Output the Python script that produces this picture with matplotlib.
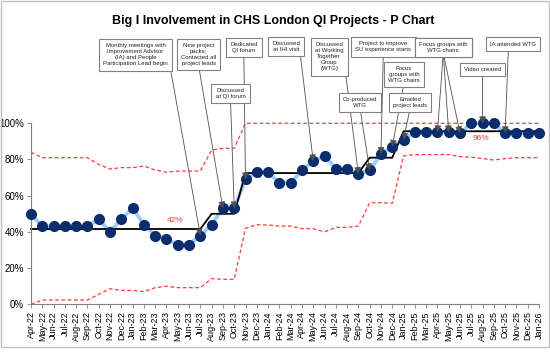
import matplotlib.pyplot as plt
from matplotlib.patches import Rectangle

plt.rcParams['font.family'] = ['Liberation Sans', 'DejaVu Sans']

# Data
months = ['Apr-22', 'May-22', 'Jun-22', 'Jul-22', 'Aug-22', 'Sep-22', 'Oct-22', 'Nov-22', 'Dec-22',
          'Jan-23', 'Feb-23', 'Mar-23', 'Apr-23', 'May-23', 'Jun-23', 'Jul-23', 'Aug-23', 'Sep-23',
          'Oct-23', 'Nov-23', 'Dec-23', 'Jan-24', 'Feb-24', 'Mar-24', 'Apr-24', 'May-24', 'Jun-24',
          'Jul-24', 'Aug-24', 'Sep-24', 'Oct-24', 'Nov-24', 'Dec-24', 'Jan-25', 'Feb-25', 'Mar-25',
          'Apr-25', 'May-25', 'Jun-25', 'Jul-25', 'Aug-25', 'Sep-25', 'Oct-25', 'Nov-25', 'Dec-25',
          'Jan-26']
pct = [50, 43, 43, 43, 43, 43, 47, 40, 47,
       53, 44, 38, 36, 33, 33, 38, 44, 53,
       53, 69, 73, 73, 67, 67, 74, 79, 82,
       75, 75, 72, 74, 83, 87, 91, 95, 95,
       95, 95, 94.5, 100, 100, 100, 94.5, 94.5, 94.5,
       94.5]
centre = [41.6] * 16 + [50] * 3 + [72.5] * 11 + [81] * 3 + [95.6] * 13
ucl = [84, 81, 81, 81, 81, 81, 77.3, 74.7, 75.5,
       75.5, 76.4, 74.2, 73, 73.6, 73.6, 73.6, 85.2, 86.2,
       86.2] + [100] * 27
lcl = [0, 2.4, 2.4, 2.4, 2.4, 2.4, 5.5, 8.6, 7.7,
       7.7, 7, 9.2, 10, 9.2, 9.2, 9.2, 14.2, 13.8,
       13.8, 42, 44, 43.8, 43.2, 43.2, 41.8, 41.8, 40,
       42.5, 42.5, 43.2, 56.1, 56.1, 55.8, 82, 82.7, 82.7,
       82.7, 82.7, 81.6, 81.2, 80.5, 79.7, 80.5, 81, 81,
       81]

# annotation text, box position (month index, value), target month indices, start point on box
notes = [
    ('Monthly meetings with\nImprovement Advisor\n(IA) and People\nParticipation Lead begin', 9.26, 137.8, [15], (1, 0.5)),
    ('New project\npacks;\nContacted all\nproject leads', 14.85, 138.0, [17], (0.5, 0)),
    ('Dedicated\nQI forum', 18.85, 141.9, [19], (0.5, 0)),
    ('Discussed\nat QI forum', 17.67, 116.3, [18], (0.5, 0)),
    ('Discussed\nat IHI visit', 22.59, 142.5, [25], (1, 0)),
    ('Discussed\nat Working\nTogether\nGroup\n(WTG)', 26.41, 136.7, [29], (1, 0.5)),
    ('Co-produced\nWTG', 29.14, 111.6, [30], (0.5, 0)),
    ('Project to improve\nSU experience starts', 31.21, 142.2, [31], (0.5, 0)),
    ('Focus\ngroups with\nWTG chairs', 33.04, 126.9, [32], (0.5, 0)),
    ('Emailed\nproject leads', 33.59, 111.6, [33], (0.5, 0)),
    ('Focus groups with\nWTG chairs', 36.52, 141.9, [36, 37, 38], (0.5, 0)),
    ('Video created', 40.0, 129.7, [40], (0.5, 0)),
    ('IA attended WTG', 42.7, 143.7, [42], (0.4, 0)),
]

x = list(range(len(months)))

fig = plt.figure(figsize=(5.5, 3.56), dpi=100)
ax = fig.add_axes([0.0564, 0.1452, 0.9236, 0.5085])

ax.plot(x, pct, color='#99CCFF', lw=2.7, zorder=2, clip_on=False)
ax.plot(x, pct, 'o', color='#0B2D6B', ms=7, zorder=3, clip_on=False)
ax.plot(x, centre, color='black', lw=1.3, zorder=2.5, clip_on=False)
ax.plot(x, ucl, color='#FF3B3B', lw=0.9, ls=(0, (3, 2)), zorder=1, clip_on=False)
ax.plot(x, lcl, color='#FF3B3B', lw=0.9, ls=(0, (3, 2)), zorder=1, clip_on=False)

ax.text(12.75, 44.5, f'{round(centre[0])}%', color='#FF3B3B', fontsize=6, ha='center', va='bottom')
ax.text(39.9, 93.5, f'{round(centre[-1])}%', color='#FF3B3B', fontsize=6, ha='center', va='top')

for text, bx, by, targets, rel in notes:
    for t in targets:
        ax.annotate(text, xy=(t, pct[t]), xytext=(bx, by), textcoords='data',
                    fontsize=4.3, ha='center', va='center', color='#222222',
                    annotation_clip=False, zorder=5, linespacing=1.25,
                    bbox=dict(boxstyle='square,pad=0.7', fc='white', ec='#808080', lw=0.8),
                    arrowprops=dict(arrowstyle='-|>,head_length=0.5,head_width=0.25',
                                    color='#505050', lw=0.6, shrinkA=0, shrinkB=0,
                                    relpos=rel, mutation_scale=8))

ax.set_xlim(0, len(months) - 1)
ax.set_ylim(0, 100)
ax.set_xticks(x)
ax.set_xticklabels(months, rotation=90, fontsize=6.5)
ax.set_yticks([0, 20, 40, 60, 80, 100])
ax.set_yticklabels(['0%', '20%', '40%', '60%', '80%', '100%'], fontsize=7)
ax.tick_params(length=3, width=0.6, color='#808080', pad=2)
for s in ['top', 'right']:
    ax.spines[s].set_visible(False)
for s in ['left', 'bottom']:
    ax.spines[s].set_color('#808080')
    ax.spines[s].set_linewidth(0.8)

fig.text(0.497, 0.942, 'Big I Involvement in CHS London QI Projects - P Chart',
         fontsize=9, fontweight='bold', ha='center', va='center')

fig.patches.append(Rectangle((0.001, 1 - 347 / 356), 0.998, 347 / 356 - 0.002,
                             transform=fig.transFigure, fill=False, ec='#BFBFBF', lw=1))

plt.savefig('out.png', dpi=100)
